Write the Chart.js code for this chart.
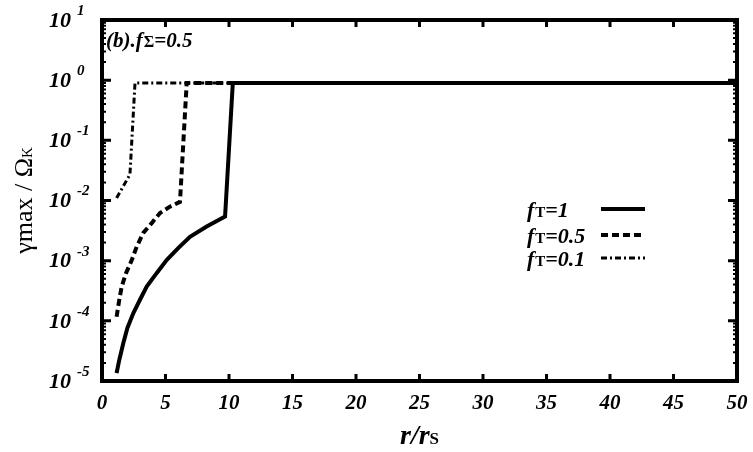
<!DOCTYPE html>
<html>
<head>
<meta charset="utf-8">
<script src="https://cdn.jsdelivr.net/npm/chart.js@4.4.0/dist/chart.umd.min.js"></script>
<style>
  html, body { margin: 0; padding: 0; background: #fff; }
  #wrap { width: 753px; height: 452px; }
</style>
</head>
<body>
<div id="wrap"><canvas id="myChart" width="753" height="452"></canvas></div>
<script>
'use strict';

// values (r/rs, gamma_max / Omega_K)
let rT1 = [1.15, 1.36, 1.68, 2.0, 2.47, 2.99, 3.52, 4.3, 5.09, 6.0, 6.93, 8.24, 9.69, 10.3, 50];
let gT1 = [1.35e-5, 2.24e-5, 4.27e-5, 7.6e-5, 1.35e-4, 2.24e-4, 3.7e-4, 6.2e-4, 1.02e-3, 1.62e-3, 2.5e-3, 3.7e-3, 5.4e-3, 0.9, 0.9];

let rT05 = [1.15, 1.36, 1.55, 1.89, 2.34, 2.73, 3.25, 3.91, 4.57, 5.35, 6.14, 6.67, 50];
let gT05 = [1.17e-4, 2.24e-4, 3.7e-4, 6.2e-4, 1.02e-3, 1.7e-3, 2.9e-3, 4.2e-3, 6.2e-3, 7.9e-3, 9.5e-3, 0.9, 0.9];

let rT01 = [1.15, 2.2, 2.6, 50];
let gT01 = [1.1e-2, 2.7e-2, 0.9, 0.9];

let xTicks = [0, 5, 10, 15, 20, 25, 30, 35, 40, 45, 50];
let yExps = [1, 0, -1, -2, -3, -4, -5];
let legendNames = ['1', '0.5', '0.1'];

function toPts(xs, ys) {
    let out = [];
    for (let i = 0; i < xs.length; i++) {
        out.push({x: xs[i], y: ys[i]});
    }
    return out;
}

const SERIF = '"Liberation Serif", "DejaVu Serif", serif';

function richWidth(ctx, parts) {
    let w = 0;
    for (let p of parts) {
        ctx.font = p.font;
        w += ctx.measureText(p.t).width + (p.gap || 0);
    }
    return w;
}

function drawRich(ctx, parts, x, y) {
    let cx = x;
    for (let p of parts) {
        ctx.font = p.font;
        ctx.fillText(p.t, cx, y + (p.dy || 0));
        cx += ctx.measureText(p.t).width + (p.gap || 0);
    }
}

let dashes = [[], [7, 4], [6, 3, 2, 3]];

let framePlugin = {
    id: 'frame',
    afterDraw(chart) {
        let ctx = chart.ctx;
        let a = chart.chartArea;
        let xs = chart.scales.x;
        let ys = chart.scales.y;
        ctx.save();
        ctx.strokeStyle = '#000';
        ctx.fillStyle = '#000';

        // ticks, pointing inward
        ctx.lineWidth = 3;
        ctx.beginPath();
        for (let v of xTicks) {
            let px = xs.getPixelForValue(v);
            ctx.moveTo(px, a.bottom);
            ctx.lineTo(px, a.bottom - 7);
            ctx.moveTo(px, a.top);
            ctx.lineTo(px, a.top + 7);
        }
        for (let e = -5; e <= 1; e++) {
            let py = ys.getPixelForValue(Math.pow(10, e));
            ctx.moveTo(a.left, py);
            ctx.lineTo(a.left + 9, py);
            ctx.moveTo(a.right, py);
            ctx.lineTo(a.right - 9, py);
        }
        ctx.stroke();
        ctx.lineWidth = 2;
        ctx.beginPath();
        for (let e = -5; e < 1; e++) {
            for (let m = 2; m <= 9; m++) {
                let py = ys.getPixelForValue(m * Math.pow(10, e));
                ctx.moveTo(a.left, py);
                ctx.lineTo(a.left + 4, py);
                ctx.moveTo(a.right, py);
                ctx.lineTo(a.right - 4, py);
            }
        }
        ctx.stroke();

        // frame
        ctx.lineWidth = 4;
        ctx.strokeRect(a.left, a.top, a.right - a.left, a.bottom - a.top);

        // x tick labels
        ctx.textBaseline = 'middle';
        ctx.textAlign = 'center';
        ctx.font = 'bold italic 21px ' + SERIF;
        for (let v of xTicks) {
            ctx.fillText(String(v), xs.getPixelForValue(v), a.bottom + 23);
        }

        // y tick labels: 10 with exponent
        ctx.textAlign = 'left';
        for (let e of yExps) {
            let py = ys.getPixelForValue(Math.pow(10, e));
            ctx.font = 'bold italic 22px ' + SERIF;
            ctx.fillText('10', 49, py + 1);
            ctx.font = 'bold italic 15px ' + SERIF;
            ctx.fillText(e > 0 ? String(e) : (e === 0 ? '0' : '-' + (-e)), 77, py - 9);
        }

        // x title r/rs
        ctx.textBaseline = 'alphabetic';
        let xt = [
            {t: 'r/r', font: 'bold italic 28px ' + SERIF},
            {t: 'S', font: 'bold 17px ' + SERIF}
        ];
        drawRich(ctx, xt, (a.left + a.right) / 2 - richWidth(ctx, xt) / 2, a.bottom + 63);

        // y title
        ctx.save();
        ctx.translate(32, (a.top + a.bottom) / 2);
        ctx.rotate(-Math.PI / 2);
        let yt = [
            {t: '\u03b3max / \u03a9', font: '26px ' + SERIF},
            {t: 'K', font: '15px ' + SERIF}
        ];
        drawRich(ctx, yt, -richWidth(ctx, yt) / 2, 0);
        ctx.restore();

        // panel label
        drawRich(ctx, [
            {t: '(b).', font: 'bold italic 21px ' + SERIF},
            {t: 'f', font: 'bold italic 21px ' + SERIF, gap: 1},
            {t: '\u03a3', font: 'bold 16px ' + SERIF},
            {t: '=0.5', font: 'bold italic 21px ' + SERIF}
        ], a.left + 4, a.top + 27);

        // legend
        let rowsY = [209, 235, 258];
        for (let i = 0; i < legendNames.length; i++) {
            let ty = rowsY[i];
            drawRich(ctx, [
                {t: 'f', font: 'bold italic 22px ' + SERIF, gap: 1},
                {t: 'T', font: 'bold 15px ' + SERIF},
                {t: '=' + legendNames[i], font: 'bold italic 22px ' + SERIF}
            ], 527, ty + 8);
            ctx.setLineDash(dashes[i]);
            ctx.lineWidth = i === 2 ? 3 : 4;
            ctx.beginPath();
            ctx.moveTo(601, ty);
            ctx.lineTo(645, ty);
            ctx.stroke();
        }
        ctx.setLineDash([]);
        ctx.restore();
    }
};

let ctx = document.getElementById('myChart').getContext('2d');

let myChart = new Chart(ctx, {
    type: 'line',
    data: {
        datasets: [{
            label: 'fT=0.1',
            data: toPts(rT01, gT01),
            borderColor: '#000',
            borderWidth: 3,
            borderDash: dashes[2],
            pointRadius: 0,
            tension: 0
        }, {
            label: 'fT=0.5',
            data: toPts(rT05, gT05),
            borderColor: '#000',
            borderWidth: 4,
            borderDash: dashes[1],
            pointRadius: 0,
            tension: 0
        }, {
            label: 'fT=1',
            data: toPts(rT1, gT1),
            borderColor: '#000',
            borderWidth: 4,
            pointRadius: 0,
            tension: 0
        }]
    },
    options: {
        responsive: false,
        animation: false,
        layout: {padding: {top: 20, right: 16, left: 0, bottom: 0}},
        plugins: {legend: {display: false}, tooltip: {enabled: false}},
        scales: {
            x: {
                type: 'linear',
                min: 0,
                max: 50,
                ticks: {display: false},
                grid: {display: false, drawTicks: false},
                border: {display: false},
                afterFit(scale) { scale.height = 71; }
            },
            y: {
                type: 'logarithmic',
                min: 1e-5,
                max: 10,
                ticks: {display: false},
                grid: {display: false, drawTicks: false},
                border: {display: false},
                afterFit(scale) { scale.width = 102; }
            }
        }
    },
    plugins: [framePlugin]
});
</script>
</body>
</html>
